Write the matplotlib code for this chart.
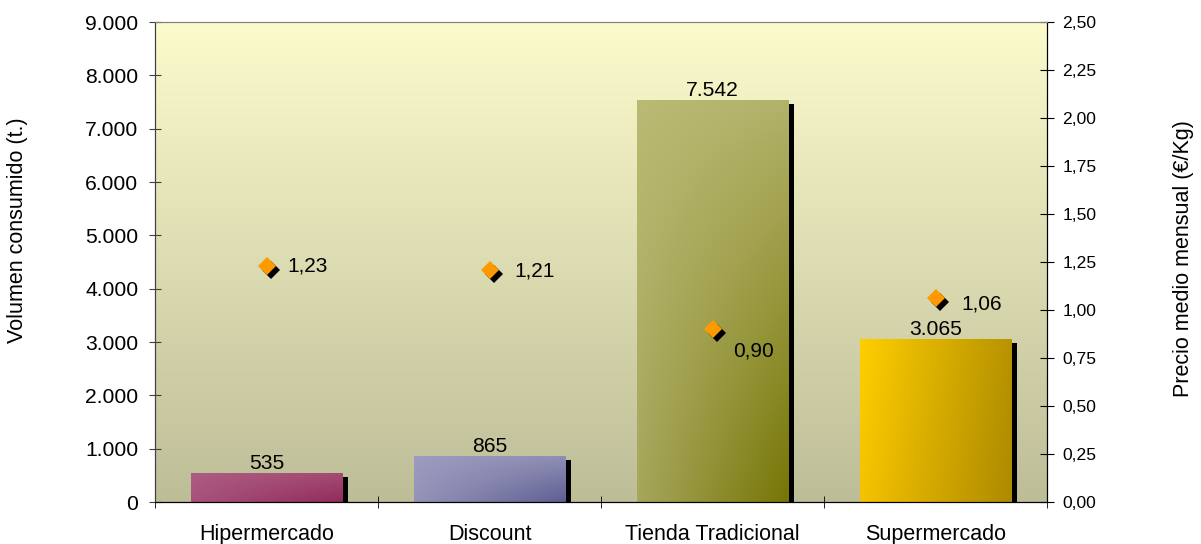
import numpy as np
import matplotlib
matplotlib.use("Agg")
import matplotlib.pyplot as plt
import matplotlib.transforms as mtransforms
from matplotlib.colors import to_rgb

plt.rcParams['font.family'] = ['Liberation Sans', 'DejaVu Sans']

categories = ["Hipermercado", "Discount", "Tienda Tradicional", "Supermercado"]
volumen = [535, 865, 7542, 3065]
precio = [1.23, 1.21, 0.90, 1.06]

# corner colours per bar: TL, TR, BL, BR
bar_corners = [
    ["#AC5C82", "#A44C74", "#A6527A", "#922A5A"],
    ["#9C9CC0", "#9090B4", "#9494B8", "#5E5E94"],
    ["#BABA74", "#B2B26A", "#A6A65C", "#767606"],
    ["#FFCE00", "#B89400", "#F4C200", "#AE8A00"],
]
price_label_offsets = [(41, 0), (45, -1), (41, -22), (46, -6)]

fig = plt.figure(figsize=(12.01, 5.44), dpi=100)
ax = fig.add_axes([155/1201, 42/544, 892/1201, 480/544])
ax2 = ax.twinx()

x = np.arange(len(categories))
width = 0.68
ax.set_xlim(-0.5, 3.5)
ax.set_ylim(0, 9000)
ax2.set_ylim(0, 2.5)

# background gradient
top = np.array(to_rgb("#FCFBCC"))
bot = np.array(to_rgb("#BDBD98"))
t = np.linspace(0, 1, 256)[:, None]
bg = (top * (1 - t) + bot * t)[:, None, :]
ax.imshow(bg, extent=[0, 1, 0, 1], transform=ax.transAxes, aspect='auto', zorder=0)
ax.set_facecolor('none')

# shadows
shadow_tr = mtransforms.offset_copy(ax.transData, fig=fig, x=6, y=-4, units='dots')
ax.bar(x, volumen, width=width, color='black', zorder=1, transform=shadow_tr)

bars = ax.bar(x, volumen, width=width, color='none', zorder=2)
for b, corners in zip(bars, bar_corners):
    c = [np.array(to_rgb(cc)) for cc in corners]
    n = 64
    u = np.linspace(0, 1, n)[None, :, None]
    v = np.linspace(0, 1, n)[:, None, None]
    img = (c[0] * (1 - u) * (1 - v) + c[1] * u * (1 - v) + c[2] * (1 - u) * v + c[3] * u * v)
    x0 = b.get_x(); x1 = x0 + b.get_width(); h = b.get_height()
    im = ax.imshow(img, extent=[x0, x1, 0, h], aspect='auto', zorder=2, interpolation='bilinear')
    im.set_clip_path(b)

def fmt_thousands(v):
    return f"{int(v):,}".replace(",", ".")

for xi, v in zip(x, volumen):
    ax.annotate(fmt_thousands(v), (xi, v), xytext=(0, 0), textcoords='offset points',
                ha='center', va='bottom', fontsize=15.2, zorder=5)

ax.set_yticks(np.arange(0, 9001, 1000))
ax.set_yticklabels([fmt_thousands(v) for v in np.arange(0, 9001, 1000)], fontsize=15.2)
ax.set_xticks(x)
ax.set_xticklabels(categories, fontsize=15.5)
ax.set_xticks(np.arange(-0.5, 3.6, 1), minor=True)
ax.tick_params(axis='x', which='major', length=0, pad=16)
ax.tick_params(axis='x', which='minor', length=8, direction='inout', color='#000000')
ax.tick_params(axis='y', length=8, direction='inout', color='#404040', pad=8)

fig.text(18/1201, 1 - 230/544, "Volumen consumido (t.)", rotation=90,
         ha='center', va='center', fontsize=15.5)
fig.text(1183/1201, 1 - 259/544, "Precio medio mensual (€/Kg)", rotation=90,
         ha='center', va='center', fontsize=15.5)

# price diamonds with shadow
ax2.set_zorder(ax.get_zorder() + 1)
ax2.patch.set_visible(False)
dia_shadow = mtransforms.offset_copy(ax2.transData, fig=fig, x=4, y=-4, units='dots')
ax2.plot(x, precio, linestyle='none', marker='D', markersize=9, color='black',
         markeredgewidth=0, transform=dia_shadow, zorder=3)
ax2.plot(x, precio, linestyle='none', marker='D', markersize=9, color='#FF9900',
         markeredgewidth=0, zorder=4)
for xi, p, off in zip(x, precio, price_label_offsets):
    ax2.annotate(f"{p:.2f}".replace(".", ","), (xi, p), xytext=off, textcoords='offset pixels',
                 ha='center', va='center', fontsize=15)

rt = np.arange(0, 2.51, 0.25)
ax2.set_yticks(rt)
ax2.set_yticklabels([f"{v:.2f}".replace(".", ",") for v in rt], fontsize=12.6)
ax2.tick_params(axis='y', length=10, direction='inout', color='black', pad=6)

for a in (ax, ax2):
    a.spines['top'].set_color('#808080')
    a.spines['left'].set_color('#404040')
    a.spines['right'].set_color('black')
    a.spines['bottom'].set_color('black')

fig.savefig("out.png", dpi=100)
